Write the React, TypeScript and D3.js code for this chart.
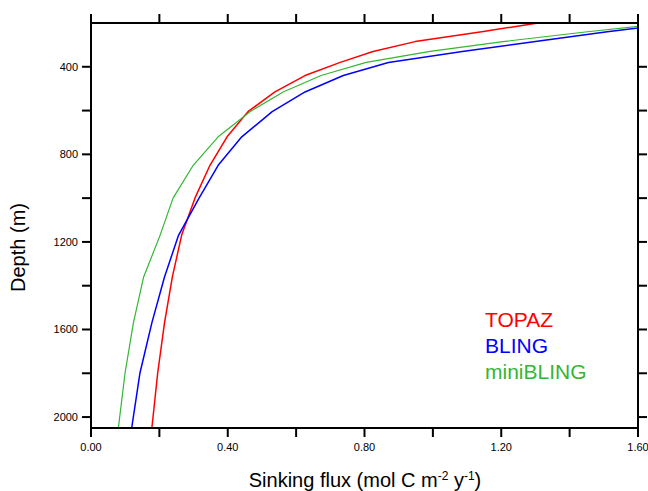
import React from 'react'
import * as d3 from 'd3'

// depth levels (m) and sinking flux per model
const depths = [200, 240, 285, 330, 380, 440, 515, 605, 720, 850, 1000, 1170, 1360, 1570, 1800, 2050]
const topaz = [1.307, 1.143, 0.948, 0.825, 0.729, 0.626, 0.538, 0.459, 0.398, 0.348, 0.304, 0.265, 0.238, 0.215, 0.195, 0.178]
const bling = [1.72, 1.51, 1.30, 1.086, 0.87, 0.738, 0.626, 0.530, 0.441, 0.372, 0.316, 0.256, 0.215, 0.178, 0.143, 0.119]
const miniBling = [1.69, 1.452, 1.205, 0.992, 0.805, 0.673, 0.562, 0.465, 0.372, 0.299, 0.240, 0.202, 0.154, 0.124, 0.0995, 0.080]

const xTicks = [0, 0.2, 0.4, 0.6, 0.8, 1.0, 1.2, 1.4, 1.6]
const xLabels = [0, 0.4, 0.8, 1.2, 1.6]
const yTicks = [400, 600, 800, 1000, 1200, 1400, 1600, 1800, 2000]
const yLabels = [400, 800, 1200, 1600, 2000]

const series = [
  { name: 'TOPAZ', values: topaz, color: '#ff0000', width: 1.5 },
  { name: 'BLING', values: bling, color: '#0000ff', width: 1.5 },
  { name: 'miniBLING', values: miniBling, color: '#33b633', width: 1.2 }
]

const W = 648
const H = 491
const margin = { left: 91, right: 10, top: 23, bottom: 63 }
const font = 'Helvetica, "Liberation Sans", Arial, sans-serif'

export default function App () {
  const x = d3.scaleLinear().domain([0, 1.6]).range([margin.left, W - margin.right])
  const y = d3.scaleLinear().domain([200, 2050]).range([margin.top, H - margin.bottom])
  const [x0, x1] = x.range()
  const [y0, y1] = y.range()
  const tl = 9

  const line = (vals: number[]) =>
    d3.line<number>()
      .x(d => x(d))
      .y((d, i) => y(depths[i]))(vals) || ''

  return (
    <svg width={W} height={H} style={{ position: 'absolute', left: 0, top: 0, background: '#fff' }}>
      <defs>
        <clipPath id='plot'>
          <rect x={x0} y={y0} width={x1 - x0} height={y1 - y0} />
        </clipPath>
      </defs>
      <g clipPath='url(#plot)'>
        {series.map(s => (
          <path key={s.name} d={line(s.values)} fill='none' stroke={s.color} strokeWidth={s.width} strokeLinejoin='round' />
        ))}
      </g>

      {/* frame */}
      <rect x={x0} y={y0} width={x1 - x0} height={y1 - y0} fill='none' stroke='#000' strokeWidth={2} />

      {/* x ticks, bottom and top */}
      {xTicks.map(t => (
        <g key={'x' + t} stroke='#000' strokeWidth={2}>
          <line x1={x(t)} x2={x(t)} y1={y1} y2={y1 + tl} />
          <line x1={x(t)} x2={x(t)} y1={y0} y2={y0 - tl} />
        </g>
      ))}
      {xLabels.map(t => (
        <text key={'xl' + t} x={x(t)} y={y1 + 23} textAnchor='middle' fontFamily={font} fontSize={11} fill='#000'>
          {d3.format('.2f')(t)}
        </text>
      ))}

      {/* y ticks, left and right */}
      {yTicks.map(t => (
        <g key={'y' + t} stroke='#000' strokeWidth={2}>
          <line x1={x0} x2={x0 - tl} y1={y(t)} y2={y(t)} />
          <line x1={x1} x2={x1 + tl} y1={y(t)} y2={y(t)} />
        </g>
      ))}
      {yLabels.map(t => (
        <text key={'yl' + t} x={x0 - 13} y={y(t)} dy='0.35em' textAnchor='end' fontFamily={font} fontSize={11} fill='#000'>
          {t}
        </text>
      ))}

      {/* axis titles */}
      <text x={365} y={487} textAnchor='middle' fontFamily={font} fontSize={20} fill='#000'>
        Sinking flux (mol C m<tspan dy={-7} fontSize={12}>-2</tspan><tspan dy={7}> y</tspan><tspan dy={-7} fontSize={12}>-1</tspan><tspan dy={7}>)</tspan>
      </text>
      <text transform={`translate(25,${(y0 + y1) / 2 + 22}) rotate(-90)`} textAnchor='middle' fontFamily={font} fontSize={20} fill='#000'>
        Depth (m)
      </text>

      {/* legend */}
      {series.map((s, i) => (
        <text key={'lg' + s.name} x={485} y={327 + i * 26} fontFamily={font} fontSize={21} fill={s.color}>
          {s.name}
        </text>
      ))}
    </svg>
  )
}
